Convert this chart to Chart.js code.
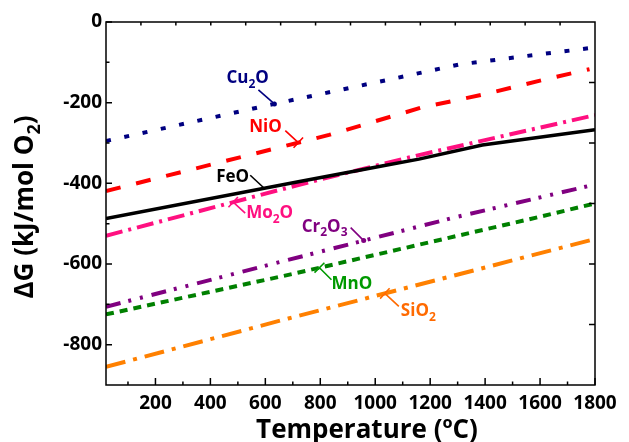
<!DOCTYPE html>
<html>
<head>
<meta charset="utf-8">
<script src="https://cdn.jsdelivr.net/npm/chart.js@4.4.1/dist/chart.umd.min.js"></script>
<style>
  html, body { margin: 0; padding: 0; background: #fff; }
  #wrap { width: 629px; height: 442px; }
</style>
</head>
<body>
<div id="wrap"><canvas id="myChart" width="629" height="442"></canvas></div>
<script>
// temperatures (ºC) and ΔG (kJ/mol O2)
const tCu2O = [20, 633, 1104, 1308, 1800];
const gCu2O = [-295, -203, -135, -105, -63];
const tNiO = [20, 832, 1169, 1399, 1626, 1780];
const gNiO = [-419, -280, -212, -179, -141, -117];
const tFeO = [20, 720, 1024, 1159, 1390, 1800];
const gFeO = [-487, -396, -357, -340, -305, -267];
const tMo2O = [20, 720, 1159, 1800];
const gMo2O = [-530, -404, -330, -231];
const tCr2O3 = [20, 659, 1280, 1800];
const gCr2O3 = [-706, -594, -486, -403];
const tMnO = [20, 684, 1561, 1800];
const gMnO = [-725, -627, -489, -450];
const tSiO2 = [20, 684, 1800];
const gSiO2 = [-855, -735, -538];

const xTicks = [100, 200, 300, 400, 500, 600, 700, 800, 900, 1000, 1100, 1200, 1300, 1400, 1500, 1600, 1700, 1800];
const yTicks = [0, -100, -200, -300, -400, -500, -600, -700, -800];

const pts = (t, g) => t.map((v, i) => ({x: v, y: g[i]}));

const series = [
  {label: 'Cu2O', t: tCu2O, g: gCu2O, color: '#000080', dash: [5, 13.7], width: 4},
  {label: 'NiO', t: tNiO, g: gNiO, color: '#ff0000', dash: [15, 16], width: 4},
  {label: 'FeO', t: tFeO, g: gFeO, color: '#000000', dash: [], width: 3.5},
  {label: 'Mo2O', t: tMo2O, g: gMo2O, color: '#ff1080', dash: [17, 6, 3, 6], width: 4},
  {label: 'Cr2O3', t: tCr2O3, g: gCr2O3, color: '#800080', dash: [15, 8, 3, 9, 3, 9], width: 4},
  {label: 'MnO', t: tMnO, g: gMnO, color: '#008000', dash: [8, 6], width: 4},
  {label: 'SiO2', t: tSiO2, g: gSiO2, color: '#ff8000', dash: [20, 8, 4, 8], width: 4}
];

// label text, temperature where the leader touches the line, offsets in px
const notes = [
  {i: 0, parts: [['Cu'], ['2', 1], ['O']], color: '#000080', at: 633, text: [-48, -21], lead: [-16, -14], end: 'dot'},
  {i: 1, parts: [['NiO']], color: '#ff0000', at: 720, text: [-49, -11], lead: [-13, -12], end: 'bar'},
  {i: 2, parts: [['FeO']], color: '#000000', at: 596, text: [-48, -6], lead: [-14, -13], end: ''},
  {i: 3, parts: [['Mo'], ['2', 1], ['O']], color: '#ff1080', at: 483, text: [13, 16], lead: [12, 11], end: 'bar'},
  {i: 4, parts: [['Cr'], ['2', 1], ['O'], ['3', 1]], color: '#800080', at: 958, text: [-62, -9], lead: [-13, -13], end: 'dot'},
  {i: 5, parts: [['MnO']], color: '#009900', at: 797, text: [12, 21], lead: [12, 12], end: 'bar'},
  {i: 6, parts: [['SiO'], ['2', 1]], color: '#ff6a00', at: 1035, text: [16, 23], lead: [14, 13], end: 'bar'}
];

const FONT = "'Open Sans', 'DejaVu Sans', sans-serif";

const interp = (t, g, x) => {
  for (let k = 1; k < t.length; k++) {
    if (x <= t[k]) return g[k - 1] + (g[k] - g[k - 1]) * (x - t[k - 1]) / (t[k] - t[k - 1]);
  }
  return g[g.length - 1];
};

// text with subscripts, drawn at baseline
const drawRich = (ctx, parts, x, y, size, align) => {
  const big = 'bold ' + size + 'px ' + FONT;
  const small = 'bold ' + Math.round(size * 0.68) + 'px ' + FONT;
  let w = 0;
  parts.forEach(p => { ctx.font = p[1] ? small : big; w += ctx.measureText(p[0]).width; });
  let cx = align === 'center' ? x - w / 2 : x;
  ctx.textAlign = 'left';
  ctx.textBaseline = 'alphabetic';
  parts.forEach(p => {
    ctx.font = p[1] ? small : big;
    ctx.fillText(p[0], cx, p[1] ? y + size * 0.28 : y);
    cx += ctx.measureText(p[0]).width;
  });
};

const framePlugin = {
  id: 'frame',
  afterDraw(chart) {
    const {ctx, chartArea: a, scales: {x, y}} = chart;
    ctx.save();
    ctx.strokeStyle = '#000';
    ctx.lineWidth = 1.5;
    ctx.strokeRect(a.left, a.top, a.right - a.left, a.bottom - a.top);
    ctx.beginPath();
    xTicks.forEach(v => {
      const px = x.getPixelForValue(v);
      const len = v % 200 === 0 ? 7 : 3.5;
      ctx.moveTo(px, a.bottom); ctx.lineTo(px, a.bottom - len);
    });
    yTicks.forEach(v => {
      const py = y.getPixelForValue(v);
      const len = v % 200 === 0 ? 6 : 3.5;
      ctx.moveTo(a.left, py); ctx.lineTo(a.left + len, py);
    });
    for (let k = 1; k < 14; k++) {
      const px = a.left + (a.right - a.left) * k / 14;
      ctx.moveTo(px, a.top); ctx.lineTo(px, a.top + 3.5);
    }
    for (let k = 1; k < 6; k++) {
      const py = a.top + (a.bottom - a.top) * k / 6;
      ctx.moveTo(a.right, py); ctx.lineTo(a.right - 6, py);
    }
    ctx.stroke();

    // axis titles
    ctx.fillStyle = '#000';
    drawRich(ctx, [['Temperature (ºC)']], 367, 438, 26, 'center');
    ctx.translate(33, 207);
    ctx.rotate(-Math.PI / 2);
    drawRich(ctx, [['ΔG (kJ/mol O'], ['2', 1], [')']], 0, 0, 26, 'center');
    ctx.restore();
  },
  afterDatasetsDraw(chart) {
    const {ctx, scales: {x, y}} = chart;
    ctx.save();
    notes.forEach(n => {
      const s = series[n.i];
      const ax = x.getPixelForValue(n.at);
      const ay = y.getPixelForValue(interp(s.t, s.g, n.at));
      ctx.strokeStyle = n.color;
      ctx.fillStyle = n.color;
      ctx.lineWidth = 1.6;
      const sx = ax + n.lead[0], sy = ay + n.lead[1];
      ctx.beginPath();
      ctx.moveTo(sx, sy); ctx.lineTo(ax, ay);
      if (n.end === 'bar') {
        const dx = ax - sx, dy = ay - sy, l = Math.hypot(dx, dy);
        const nx = -dy / l * 7, ny = dx / l * 7;
        ctx.moveTo(ax - nx, ay - ny); ctx.lineTo(ax + nx, ay + ny);
      }
      ctx.stroke();
      if (n.end === 'dot') {
        ctx.beginPath(); ctx.arc(ax, ay, 2.5, 0, Math.PI * 2); ctx.fill();
      }
      drawRich(ctx, n.parts, ax + n.text[0], ay + n.text[1], 17, 'left');
    });
    ctx.restore();
  }
};

new Chart(document.getElementById('myChart').getContext('2d'), {
  type: 'line',
  data: {
    datasets: series.map(s => ({
      label: s.label,
      data: pts(s.t, s.g),
      borderColor: s.color,
      borderWidth: s.width,
      borderDash: s.dash,
      borderCapStyle: 'butt',
      pointRadius: 0,
      tension: 0,
      fill: false
    }))
  },
  options: {
    responsive: false,
    animation: false,
    events: [],
    layout: {padding: {top: 22, right: 34, left: 0, bottom: 0}},
    plugins: {legend: {display: false}, tooltip: {enabled: false}},
    scales: {
      x: {
        type: 'linear',
        min: 20,
        max: 1800,
        afterBuildTicks: sc => { sc.ticks = xTicks.map(v => ({value: v})); },
        afterFit: sc => { sc.height = 57; },
        grid: {display: false, drawTicks: false},
        border: {display: false},
        ticks: {
          padding: 7,
          autoSkip: false,
          maxRotation: 0,
          color: '#000',
          font: {family: FONT, size: 19, weight: 'bold'},
          callback: v => v % 200 === 0 ? String(v) : ''
        }
      },
      y: {
        type: 'linear',
        min: -900,
        max: 0,
        afterBuildTicks: sc => { sc.ticks = yTicks.map(v => ({value: v})); },
        afterFit: sc => { sc.width = 106; },
        grid: {display: false, drawTicks: false},
        border: {display: false},
        ticks: {
          padding: 4,
          autoSkip: false,
          color: '#000',
          font: {family: FONT, size: 19, weight: 'bold'},
          callback: v => v % 200 === 0 ? String(v) : ''
        }
      }
    }
  },
  plugins: [framePlugin]
});
</script>
</body>
</html>
